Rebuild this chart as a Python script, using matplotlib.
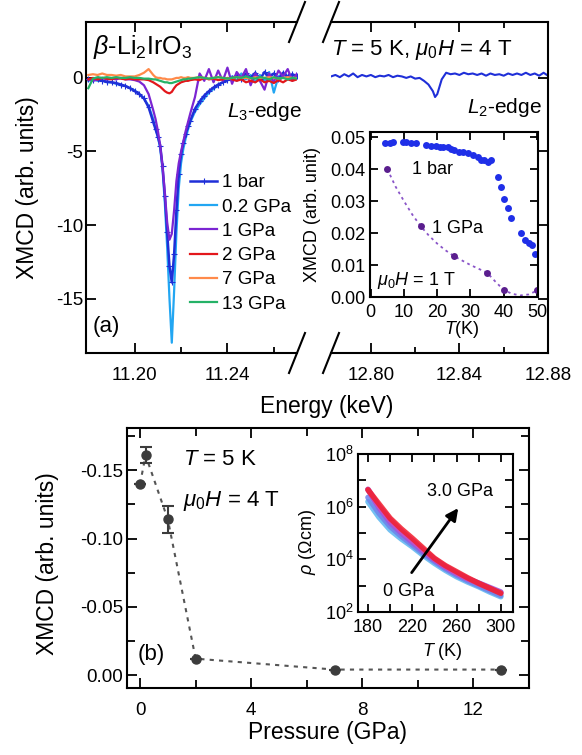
import matplotlib
matplotlib.use('Agg')
import matplotlib.pyplot as plt
import numpy as np
from matplotlib.ticker import FixedLocator, FuncFormatter, LogLocator, NullFormatter, FormatStrFormatter

plt.rcParams.update({
    'font.family': ['Liberation Sans', 'DejaVu Sans'],
    'mathtext.fontset': 'custom',
    'mathtext.rm': 'Liberation Sans',
    'mathtext.it': 'Liberation Sans:italic',
    'mathtext.bf': 'Liberation Sans:bold',
    'axes.unicode_minus': False,
    'axes.linewidth': 1.5,
    'xtick.direction': 'in', 'ytick.direction': 'in',
    'xtick.major.width': 1.3, 'ytick.major.width': 1.3,
    'xtick.minor.width': 1.3, 'ytick.minor.width': 1.3,
    'xtick.major.size': 7, 'ytick.major.size': 7,
    'xtick.minor.size': 4, 'ytick.minor.size': 4,
})

# ---------------- data: panel (a) L3 edge ----------------
E_L3 = [11.180, 11.182, 11.184, 11.186, 11.188, 11.190, 11.192, 11.194, 11.196, 11.198,
        11.200, 11.202, 11.204, 11.206, 11.208, 11.209, 11.210, 11.211, 11.212, 11.213,
        11.214, 11.215, 11.216, 11.217, 11.218, 11.219, 11.220, 11.221, 11.222, 11.223,
        11.224, 11.226, 11.228, 11.230, 11.232, 11.234, 11.236, 11.238, 11.240, 11.242,
        11.244, 11.246, 11.248, 11.250, 11.252, 11.254, 11.256, 11.258, 11.260, 11.262,
        11.264, 11.266, 11.268, 11.270]
xmcd_1bar = [-0.1, -0.15, -0.1, -0.2, -0.25, -0.3, -0.35, -0.45, -0.55, -0.7, -0.9, -1.1, -1.4, -2.0, -3.0,
             -3.5, -4.0, -4.6, -6.0, -8.0, -10.5, -12.8, -13.9, -12.0, -9.0, -6.5, -5.2, -4.4, -3.8, -3.3, -2.9,
             -2.1, -1.6, -1.2, -0.9, -0.65, -0.45, -0.3, -0.15, 0.0, 0.15, -0.05, 0.3, 0.0, 0.35, -0.1, 0.4,
             0.05, 0.3, -0.1, 0.35, 0.1, 0.25, 0.1]
xmcd_02GPa = [-0.2, -0.1, -0.2, -0.15, -0.3, -0.3, -0.4, -0.5, -0.55, -0.7, -0.85, -1.1, -1.4, -1.9, -2.8,
              -3.4, -4.0, -4.8, -6.2, -8.5, -11.5, -15.0, -18.0, -14.5, -10.5, -7.5, -5.8, -4.8, -4.1, -3.5, -3.0,
              -2.3, -1.8, -1.4, -1.0, -0.75, -0.5, -0.3, -0.15, 0.1, -0.2, 0.3, -0.1, 0.2, -0.3, 0.2, -0.2,
              0.4, -1.0, 0.1, 0.3, -0.1, 0.2, 0.0]
xmcd_1GPa = [-0.1, -0.2, -0.1, 0.0, -0.1, -0.05, -0.1, 0.0, -0.1, -0.1, -0.15, -0.25, -0.5, -1.1, -2.2,
             -2.8, -3.6, -4.6, -6.0, -7.8, -9.8, -11.0, -10.6, -9.0, -7.0, -5.8, -5.0, -4.3, -3.6, -3.0, -2.4,
             -1.3, 0.3, -0.2, 0.6, -0.3, 0.5, -0.2, 0.7, -0.4, 0.4, 0.0, 0.6, -0.5, 0.3, -0.2, -0.8,
             0.3, -0.3, 0.5, 0.1, 0.6, -0.2, 0.3]
xmcd_2GPa = [-0.1, 0.0, -0.1, 0.0, -0.05, -0.1, 0.0, -0.05, -0.1, -0.05, -0.1, -0.1, -0.1, -0.15, -0.3,
             -0.4, -0.5, -0.6, -0.75, -0.9, -1.0, -1.05, -0.95, -0.7, -0.5, -0.4, -0.3, -0.25, -0.2, -0.2, -0.15,
             -0.1, -0.15, 0.0, -0.1, -0.05, -0.15, -0.1, 0.0, -0.1, -0.2, -0.1, -0.3, -0.2, -0.3, -0.1, -0.3,
             -0.2, -0.35, -0.15, -0.3, -0.1, -0.2, -0.1]
xmcd_7GPa = [0.2, 0.25, 0.2, 0.3, 0.2, 0.2, 0.15, 0.2, 0.1, 0.1, 0.1, 0.2, 0.35, 0.6, 0.2,
             0.05, 0.0, 0.0, -0.05, -0.05, -0.1, -0.1, -0.1, -0.05, 0.0, 0.0, 0.05, 0.0, 0.0, 0.05, 0.0,
             0.0, 0.05, 0.0, -0.05, 0.0, 0.05, 0.0, -0.05, 0.0, 0.05, 0.0, 0.0, -0.05, 0.05, 0.0, 0.0,
             0.05, 0.0, -0.05, 0.0, 0.05, 0.0, 0.0]
xmcd_13GPa = [-0.7, -0.05, 0.05, 0.0, 0.05, 0.0, 0.05, 0.0, 0.0, 0.05, 0.0, 0.0, -0.05, -0.05, -0.1,
              -0.1, -0.15, -0.2, -0.25, -0.3, -0.3, -0.35, -0.35, -0.3, -0.25, -0.2, -0.15, -0.1, -0.1, -0.05, -0.05,
              0.0, 0.05, 0.0, -0.05, 0.0, 0.05, 0.0, -0.05, 0.0, 0.05, 0.0, 0.1, 0.0, -0.05, 0.05, 0.0,
              -0.1, 0.05, -0.05, 0.0, -0.1, 0.0, -0.05]
labels_a = ['1 bar', '0.2 GPa', '1 GPa', '2 GPa', '7 GPa', '13 GPa']
colors_a = ['#1f2fd8', '#22a6f2', '#7b25d2', '#e3171b', '#ff8a4a', '#25b267']

# L2 edge (1 bar)
E_L2 = [12.782, 12.784, 12.786, 12.788, 12.790, 12.792, 12.794, 12.796, 12.798, 12.800,
        12.802, 12.804, 12.806, 12.808, 12.810, 12.812, 12.814, 12.816, 12.818, 12.820,
        12.822, 12.824, 12.826, 12.828, 12.829, 12.830, 12.831, 12.832,
        12.834, 12.836, 12.838, 12.840, 12.842, 12.844, 12.846, 12.848, 12.850, 12.852,
        12.854, 12.856, 12.858, 12.860, 12.862, 12.864, 12.866, 12.868, 12.870, 12.872,
        12.874, 12.876, 12.878, 12.880]
xmcd_L2 = [0.1, 0.2, 0.05, 0.25, 0.1, 0.3, 0.05, 0.2, 0.1, 0.2, 0.05, 0.15, 0.1, 0.2, 0.05, 0.15,
           0.1, 0.0, 0.1, -0.05, 0.0, -0.2, -0.45, -0.9,
           -1.3, -1.1, -0.6, -0.1,
           0.35, 0.25, 0.3, 0.2, 0.35, 0.25, 0.3, 0.2, 0.3, 0.15, 0.3, 0.2, 0.25, 0.15, 0.3, 0.2,
           0.3, 0.2, 0.35, 0.2, 0.3, 0.15, 0.35, 0.15]

# inset (a): XMCD vs T
T_1bar = [4.2, 5.7, 6.7, 9.7, 10.7, 12.2, 13.7, 16.7, 18.2, 19.7, 20.7, 21.7, 23.2, 24.2, 25.2,
          26.7, 27.7, 29.2, 30.7, 32.2, 33.2, 34.2, 35.2, 36.2, 38.2, 39.2, 40.2, 41.2, 42.2,
          45.2, 46.5, 47.5, 48.5, 49.5]
M_1bar = [0.0482, 0.0482, 0.0485, 0.0485, 0.0485, 0.0482, 0.0482, 0.0475, 0.0472, 0.0472, 0.0470,
          0.0468, 0.0470, 0.0464, 0.0459, 0.0454, 0.0454, 0.0449, 0.0444, 0.0438, 0.0430, 0.0428,
          0.0423, 0.0428, 0.0376, 0.0344, 0.0308, 0.0277, 0.0246, 0.0199, 0.0178, 0.0170, 0.0163, 0.0134]
T_1GPa = [5, 15, 25, 35, 40, 50]
M_1GPa = [0.040, 0.0222, 0.0128, 0.0076, 0.0022, 0.0021]
T_guide = [5, 7.5, 10, 12.5, 15, 17.5, 20, 22.5, 25, 27.5, 30, 32.5, 35, 37.5, 40, 42.5, 45, 47.5, 50]
M_guide = [0.040, 0.0345, 0.0300, 0.0258, 0.0222, 0.0192, 0.0167, 0.0146, 0.0128, 0.0114, 0.0100,
           0.0088, 0.0076, 0.0048, 0.0022, 0.0010, 0.0005, 0.0008, 0.0020]

# ---------------- data: panel (b) ----------------
pressure = [0, 0.2, 1, 2, 7, 13]
xmcd_p = [-0.140, -0.161, -0.114, -0.012, -0.004, -0.004]
xmcd_err = [0, 0.006, 0.010, 0, 0, 0]

# inset (b): resistivity
T_rho = [180, 190, 200, 210, 220, 230, 240, 250, 260, 270, 280, 290, 300]
logrho = {
    '0 GPa':   [6.19, 5.60, 5.12, 4.78, 4.48, 4.15, 3.85, 3.58, 3.34, 3.14, 2.96, 2.76, 2.58],
    '0.7 GPa': [6.35, 5.75, 5.25, 4.88, 4.55, 4.22, 3.92, 3.64, 3.40, 3.19, 3.00, 2.81, 2.63],
    '1.5 GPa': [6.65, 5.95, 5.40, 5.00, 4.65, 4.30, 3.98, 3.70, 3.46, 3.26, 3.10, 2.93, 2.76],
    '2.2 GPa': [6.66, 6.02, 5.50, 5.08, 4.72, 4.36, 4.02, 3.73, 3.49, 3.27, 3.08, 2.90, 2.73],
    '3.0 GPa': [6.64, 6.10, 5.56, 5.16, 4.80, 4.42, 4.04, 3.76, 3.53, 3.30, 3.09, 2.90, 2.71],
}
colors_rho = ['#5cb6f0', '#6f82ea', '#9a55dc', '#c94fc4', '#f21d2a']

W, H = 582.0, 755.0
def fa(x0, y0, x1, y1):
    return [x0 / W, 1 - y1 / H, (x1 - x0) / W, (y1 - y0) / H]

fig = plt.figure(figsize=(5.82, 7.55), dpi=100)

# ---------------- panel (a) ----------------
axL = fig.add_axes(fa(86, 22, 297, 353))
axR = fig.add_axes(fa(331, 22, 548, 353))

series = [xmcd_1bar, xmcd_02GPa, xmcd_1GPa, xmcd_2GPa, xmcd_7GPa, xmcd_13GPa]
zord = [3, 2, 4, 5, 6, 7]
handles = []
for s, lab, c, z in zip(series, labels_a, colors_a, zord):
    if lab == '1 bar':
        h, = axL.plot(E_L3, s, color=c, lw=1.8, marker='+', ms=4, mew=0.8, label=lab, zorder=z)
    else:
        h, = axL.plot(E_L3, s, color=c, lw=1.6, label=lab, zorder=z)
    handles.append(h)
axR.plot(E_L2, xmcd_L2, color=colors_a[0], lw=1.5)

for ax in (axL, axR):
    ax.set_ylim(-18.7, 3.8)
    ax.yaxis.set_major_locator(FixedLocator([0, -5, -10, -15]))
    ax.tick_params(labelsize=13.5)
    ax.tick_params(axis='x', pad=10)
    ax.tick_params(axis='y', pad=2)
axL.set_xlim(11.179, 11.270)
axR.set_xlim(12.782, 12.880)
axL.xaxis.set_major_locator(FixedLocator([11.20, 11.24]))
axL.xaxis.set_minor_locator(FixedLocator([11.22, 11.26]))
axR.xaxis.set_major_locator(FixedLocator([12.80, 12.84, 12.88]))
axR.xaxis.set_minor_locator(FixedLocator([12.82, 12.86]))
for ax in (axL, axR):
    ax.xaxis.set_major_formatter(FormatStrFormatter('%.2f'))
    ax.tick_params(which='both', top=True)
axL.spines['right'].set_visible(False)
axL.tick_params(which='both', right=False)
axR.spines['left'].set_visible(False)
axR.tick_params(which='both', left=False, right=True, labelleft=False)

# break marks
dyL = 20 / 331.0
for ax, wpx in ((axL, 211.0), (axR, 217.0)):
    dx = 8 / wpx
    x0 = 1.0 if ax is axL else 0.0
    for y0 in (0.0, 1.0):
        ax.plot([x0 - dx, x0 + dx], [y0 - dyL, y0 + dyL], transform=ax.transAxes,
                color='black', lw=1.5, clip_on=False)

axL.set_ylabel('XMCD (arb. units)', fontsize=16.5, va='center')
axL.yaxis.set_label_coords(-0.275, 0.50)
fig.text(327 / W, 1 - 407 / H, 'Energy (keV)', fontsize=16.5, ha='center', va='center')

axL.text(0.033, 0.903, r'$\beta$-Li$_2$IrO$_3$', transform=axL.transAxes, fontsize=18,
         ha='left', va='baseline')
axL.text(0.668, 0.713, r'$L_3$-edge', transform=axL.transAxes, fontsize=15,
         ha='left', va='baseline')
axL.text(0.033, 0.079, '(a)', transform=axL.transAxes, fontsize=16, ha='left', va='center')
axR.text(0.0, 0.90, r'$T$ = 5 K, $\mu_0H$ = 4 T', transform=axR.transAxes, fontsize=16,
         ha='left', va='baseline')
axR.text(0.972, 0.725, r'$L_2$-edge', transform=axR.transAxes, fontsize=15,
         ha='right', va='baseline')

axL.legend(handles=handles, loc='upper left', bbox_to_anchor=(0.495, 0.54), frameon=False,
           fontsize=13.5, borderpad=0, borderaxespad=0, handlelength=1.4, handletextpad=0.3,
           labelspacing=0.38)

# inset (a)
axIa = fig.add_axes(fa(370, 132, 538, 297))
axIa.plot(T_guide, M_guide, color='#8a55c8', lw=1.3, ls=(0, (1.5, 2)))
axIa.plot(T_1bar, M_1bar, 'o', color='#1f2fe8', ms=5, mew=0)
axIa.plot(T_1GPa, M_1GPa, 'o', color='#5a1e8e', ms=5, mew=0)
axIa.set_xlim(-0.2, 50.3)
axIa.set_ylim(0, 0.0516)
axIa.xaxis.set_major_locator(FixedLocator([0, 10, 20, 30, 40, 50]))
axIa.yaxis.set_major_locator(FixedLocator([0, 0.01, 0.02, 0.03, 0.04, 0.05]))
axIa.yaxis.set_major_formatter(FormatStrFormatter('%.2f'))
axIa.tick_params(which='both', top=True, right=True, labelsize=13, length=6)
axIa.tick_params(axis='x', pad=5)
axIa.tick_params(axis='y', pad=3)
axIa.set_ylabel('XMCD (arb. unit)', fontsize=13, va='center')
axIa.yaxis.set_label_coords(-0.345, 0.497)
axIa.set_xlabel(r'$T$(K)', fontsize=13, va='center')
axIa.xaxis.set_label_coords(0.548, -0.20)
axIa.text(0.25, 0.77, '1 bar', transform=axIa.transAxes, fontsize=13, va='center')
axIa.text(0.369, 0.418, '1 GPa', transform=axIa.transAxes, fontsize=13, va='center')
axIa.text(0.042, 0.073, r'$\mu_0H$ = 1 T', transform=axIa.transAxes, fontsize=13, va='baseline')

# ---------------- panel (b) ----------------
axB = fig.add_axes(fa(127, 428, 529, 688))
axB.plot(pressure, xmcd_p, color='#555555', lw=1.5, ls=(0, (2, 2.5)), zorder=1)
axB.errorbar(pressure, xmcd_p, yerr=xmcd_err, fmt='o', color='#3c3c3c', ms=6.5,
             ecolor='#3c3c3c', elinewidth=1.5, capsize=4, capthick=1.5, zorder=2)
axB.set_xlim(-0.47, 14.0)
axB.set_ylim(0.0095, -0.181)
axB.xaxis.set_major_locator(FixedLocator([0, 4, 8, 12]))
axB.xaxis.set_minor_locator(FixedLocator([2, 6, 10]))
axB.yaxis.set_major_locator(FixedLocator([0, -0.05, -0.10, -0.15]))
axB.yaxis.set_minor_locator(FixedLocator([-0.025, -0.075, -0.125, -0.175]))
axB.yaxis.set_major_formatter(FormatStrFormatter('%.2f'))
axB.tick_params(which='both', top=True, right=True, labelsize=13.5)
axB.tick_params(which='minor', length=6)
axB.tick_params(axis='x', pad=10)
axB.tick_params(axis='y', pad=3)
axB.set_ylabel('XMCD (arb. units)', fontsize=16.5, va='center')
axB.yaxis.set_label_coords(-0.199, 0.48)
axB.set_xlabel('Pressure (GPa)', fontsize=16.5, va='center')
axB.xaxis.set_label_coords(0.5, -0.17)
axB.text(0.139, 0.858, r'$T$ = 5 K', transform=axB.transAxes, fontsize=16, va='baseline')
axB.text(0.139, 0.70, r'$\mu_0H$ = 4 T', transform=axB.transAxes, fontsize=16, va='baseline')
axB.text(0.027, 0.127, '(b)', transform=axB.transAxes, fontsize=16, va='center')

# inset (b)
axIb = fig.add_axes(fa(358, 454, 513, 612))
for (lab, vals), c in zip(logrho.items(), colors_rho):
    axIb.plot(T_rho, [10 ** v for v in vals], color=c, lw=4, alpha=0.85,
              solid_capstyle='round')
axIb.set_yscale('log')
axIb.set_xlim(171, 311)
axIb.set_ylim(1e2, 1e8)
axIb.xaxis.set_major_locator(FixedLocator([180, 220, 260, 300]))
axIb.xaxis.set_minor_locator(FixedLocator([200, 240, 280]))
axIb.yaxis.set_major_locator(LogLocator(base=10, numticks=10))
axIb.yaxis.set_minor_locator(FixedLocator([]))
axIb.yaxis.set_major_formatter(FuncFormatter(
    lambda v, p: (r'$10^{%d}$' % int(round(np.log10(v)))) if int(round(np.log10(v))) % 2 == 0 else ''))
axIb.tick_params(which='both', top=True, right=True, labelsize=13, length=6)
axIb.tick_params(axis='x', pad=5)
axIb.tick_params(axis='y', pad=3)
axIb.set_ylabel(r'$\rho$ (Ωcm)', fontsize=13, va='center')
axIb.yaxis.set_label_coords(-0.323, 0.443)
axIb.set_xlabel(r'$T$ (K)', fontsize=13, va='center')
axIb.xaxis.set_label_coords(0.542, -0.253)
axIb.annotate('', xy=(263, 10 ** 6.03), xytext=(218, 10 ** 3.41),
              arrowprops=dict(arrowstyle='-|>', color='black', lw=2, mutation_scale=18))
axIb.text(0.445, 0.76, '3.0 GPa', transform=axIb.transAxes, fontsize=13, va='center')
axIb.text(0.161, 0.127, '0 GPa', transform=axIb.transAxes, fontsize=13, va='center')

fig.savefig('out.png', dpi=100)
